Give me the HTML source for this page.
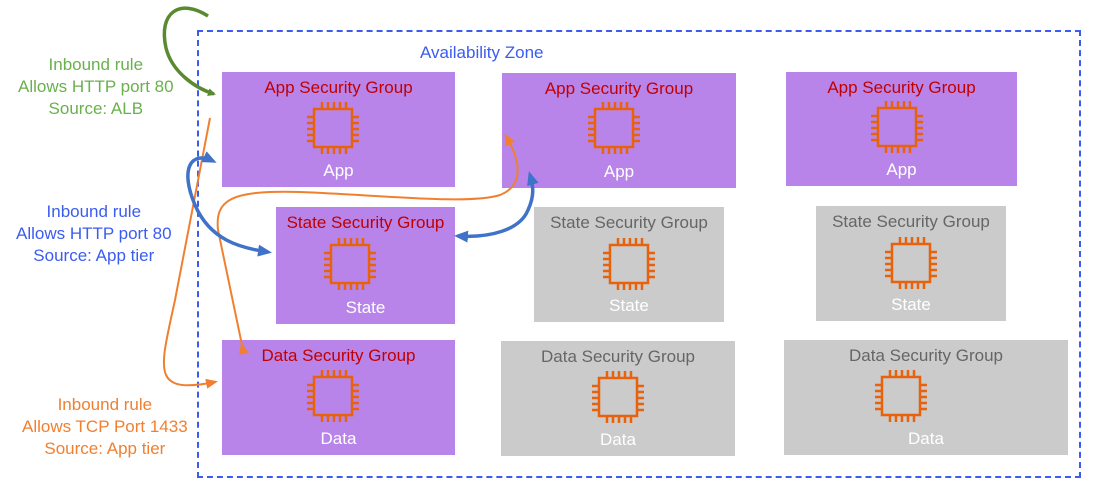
<!DOCTYPE html>
<html><head><style>
body{margin:0;width:1101px;height:504px;background:#fff;position:relative;font-family:"Liberation Sans",sans-serif;overflow:hidden}
.b{position:absolute;text-align:center}
.p{background:#b884ea}.g{background:#cbcbcb}
.t{position:absolute;left:0;right:0;top:6px;font-size:17px;color:#c00000}
.g .t{color:#666}
.s{position:absolute;left:0;right:0;bottom:6px;font-size:17px;color:#fff}
.l{position:absolute;text-align:center;font-size:17px;line-height:22px}
</style></head><body>
<div style="position:absolute;left:197px;top:30px;width:880px;height:444px;border:2px dashed #3b5cf0"></div>
<div class="l" style="left:420px;top:42px;color:#3b5cf0">Availability Zone</div>
<div class="l" style="left:18px;top:54px;color:#6ab04c">Inbound rule<br>Allows HTTP port 80<br>Source: ALB</div>
<div class="l" style="left:16px;top:201px;color:#3b5cf0">Inbound rule<br>Allows HTTP port 80<br>Source: App tier</div>
<div class="l" style="left:22px;top:394px;color:#f08030">Inbound rule<br>Allows TCP Port 1433<br>Source: App tier</div>

<div class="b p" style="left:222px;top:72px;width:233px;height:115px"><div class="t">App Security Group</div><div class="s">App</div></div>
<div class="b p" style="left:502px;top:73px;width:234px;height:115px"><div class="t">App Security Group</div><div class="s">App</div></div>
<div class="b p" style="left:786px;top:72px;width:231px;height:114px"><div class="t">App Security Group</div><div class="s">App</div></div>
<div class="b p" style="left:276px;top:207px;width:179px;height:117px"><div class="t">State Security Group</div><div class="s">State</div></div>
<div class="b g" style="left:534px;top:207px;width:190px;height:115px"><div class="t">State Security Group</div><div class="s">State</div></div>
<div class="b g" style="left:816px;top:206px;width:190px;height:115px"><div class="t">State Security Group</div><div class="s">State</div></div>
<div class="b p" style="left:222px;top:340px;width:233px;height:115px"><div class="t">Data Security Group</div><div class="s">Data</div></div>
<div class="b g" style="left:501px;top:341px;width:234px;height:115px"><div class="t">Data Security Group</div><div class="s">Data</div></div>
<div class="b g" style="left:784px;top:340px;width:284px;height:115px"><div class="t">Data Security Group</div><div class="s">Data</div></div>

<svg width="1101" height="504" style="position:absolute;left:0;top:0">
<defs>
<g id="chip" fill="none" stroke="#e8620c" stroke-width="2.5">
<rect x="9" y="9" width="38" height="38"/>
<path d="M17 9V2M23 9V2M29 9V2M35 9V2M41 9V2M17 47v7M23 47v7M29 47v7M35 47v7M41 47v7M9 17H2M9 23H2M9 29H2M9 35H2M9 41H2M47 17h7M47 23h7M47 29h7M47 35h7M47 41h7"/>
</g>
<marker id="ag" markerWidth="8" markerHeight="8" refX="6" refY="4" orient="auto" markerUnits="userSpaceOnUse" viewBox="0 0 8 8"><path d="M0 0L8 4L0 8z" fill="#5a8a30"/></marker>
<marker id="ab" markerWidth="14" markerHeight="12" refX="10" refY="6" orient="auto" markerUnits="userSpaceOnUse"><path d="M0 0L14 6L0 12z" fill="#3f72c8"/></marker>
<marker id="ao" markerWidth="12" markerHeight="10" refX="9" refY="5" orient="auto" markerUnits="userSpaceOnUse"><path d="M0 0L12 5L0 10z" fill="#f08030"/></marker>
<marker id="abs" markerWidth="14" markerHeight="12" refX="10" refY="6" orient="auto-start-reverse" markerUnits="userSpaceOnUse"><path d="M0 0L14 6L0 12z" fill="#3f72c8"/></marker>
<marker id="aos" markerWidth="12" markerHeight="10" refX="9" refY="5" orient="auto-start-reverse" markerUnits="userSpaceOnUse"><path d="M0 0L12 5L0 10z" fill="#f08030"/></marker>
</defs>
<use href="#chip" x="305" y="100"/><use href="#chip" x="586" y="100"/><use href="#chip" x="869" y="99"/>
<use href="#chip" x="322" y="236"/><use href="#chip" x="601" y="236"/><use href="#chip" x="883" y="235"/>
<use href="#chip" x="305" y="368"/><use href="#chip" x="590" y="369"/><use href="#chip" x="873" y="368"/>
<path d="M208 16C180 -2 158 12 166 48C172 72 195 88 214 94" fill="none" stroke="#5a8a30" stroke-width="3.5" marker-end="url(#ag)"/>
<path d="M210 118L175 300C160 370 150 395 215 382" fill="none" stroke="#f08030" stroke-width="2" marker-end="url(#ao)"/>
<path d="M242 345L218 230C215 200 230 190 300 192C380 195 470 205 500 195C525 185 520 160 506 136" fill="none" stroke="#f08030" stroke-width="2" marker-end="url(#aos)" marker-start="url(#ao)"/>
<path d="M213 161C190 150 180 170 195 205C210 240 240 248 268 252" fill="none" stroke="#3f72c8" stroke-width="3.5" marker-start="url(#abs)" marker-end="url(#ab)"/>
<path d="M458 236C490 238 520 230 528 210C535 195 533 185 530 175" fill="none" stroke="#3f72c8" stroke-width="3.5" marker-start="url(#abs)" marker-end="url(#ab)"/>
</svg>
</body></html>
